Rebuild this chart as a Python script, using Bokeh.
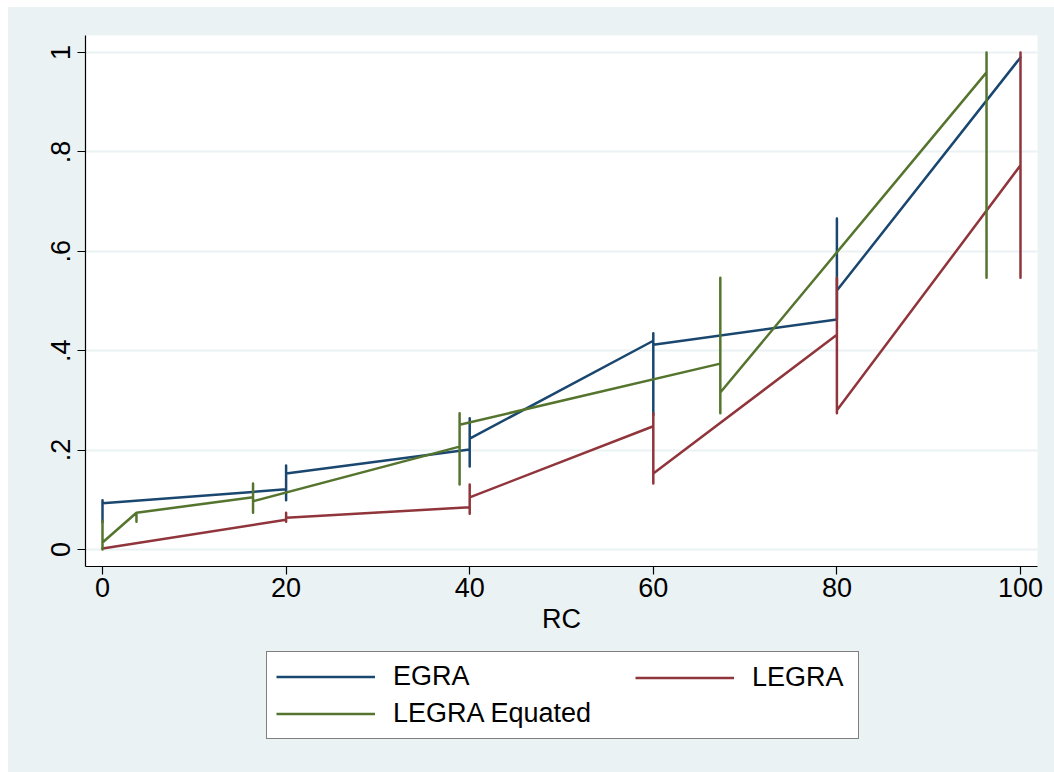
from bokeh.plotting import figure
from bokeh.models import Range1d, FixedTicker, Legend, LegendItem
from bokeh.layouts import column
from bokeh.embed import file_html
from bokeh.resources import INLINE

# ---- data ----
# Each series: x positions, and at each x the y where the line arrives,
# the low / high ends of the vertical run, and the y where the line leaves.
egra_x    = [0, 20, 40, 60, 80, 100]
egra_in   = [0.055, 0.121, 0.201, 0.420, 0.463, 0.990]
egra_lo   = [0.055, 0.099, 0.167, 0.270, 0.500, 0.990]
egra_hi   = [0.099, 0.169, 0.264, 0.435, 0.666, 0.990]
egra_out  = [0.093, 0.153, 0.223, 0.412, 0.521, 0.990]

legra_x   = [0, 20, 40, 60, 80, 100]
legra_in  = [0.002, 0.060, 0.085, 0.248, 0.432, 0.773]
legra_lo  = [0.002, 0.056, 0.072, 0.133, 0.274, 0.547]
legra_hi  = [0.002, 0.074, 0.131, 0.274, 0.547, 1.000]
legra_out = [0.002, 0.064, 0.105, 0.153, 0.280, 1.000]

eq_x      = [0, 3.7, 16.4, 38.9, 67.3, 96.3]
eq_in     = [0.000, 0.074, 0.105, 0.207, 0.374, 0.960]
eq_lo     = [0.000, 0.056, 0.074, 0.131, 0.274, 0.547]
eq_hi     = [0.058, 0.074, 0.133, 0.274, 0.547, 1.000]
eq_out    = [0.014, 0.074, 0.097, 0.251, 0.316, 1.000]

x_ticks = [0, 20, 40, 60, 80, 100]
y_ticks = [0, 0.2, 0.4, 0.6, 0.8, 1.0]
y_tick_labels = ["0", ".2", ".4", ".6", ".8", "1"]
x_label = "RC"
names = ["EGRA", "LEGRA", "LEGRA Equated"]
colors = ["#1a476f", "#90353b", "#55752f"]

def path(xs, yin, ylo, yhi, yout):
    px, py = [], []
    for x, a, b, c, d in zip(xs, yin, ylo, yhi, yout):
        px += [x, x, x, x]
        py += [a, b, c, d]
    return px, py

BG = "#EAF2F3"
FONT = "Liberation Sans"
FS = "27px"
LW = 2.5

p = figure(width=1046, height=640, output_backend="svg", toolbar_location=None,
           x_range=Range1d(-1.852, 101.852), y_range=Range1d(-0.0342, 1.0342),
           min_border_left=77, min_border_right=17, min_border_top=28, min_border_bottom=81,
           background_fill_color="white", border_fill_color=BG,
           outline_line_color=None, margin=0)

series = [(egra_x, egra_in, egra_lo, egra_hi, egra_out),
          (legra_x, legra_in, legra_lo, legra_hi, legra_out),
          (eq_x, eq_in, eq_lo, eq_hi, eq_out)]
paths = [path(*s) for s in series]
for (px, py), col in zip(paths, colors):
    p.line(px, py, line_color=col, line_width=LW, line_join="round", line_cap="round")

# axes
p.xaxis.ticker = FixedTicker(ticks=x_ticks)
p.yaxis.ticker = FixedTicker(ticks=y_ticks)
p.yaxis.major_label_overrides = {t: l for t, l in zip(y_ticks, y_tick_labels)}
p.yaxis.major_label_orientation = "vertical"
for ax in (p.xaxis, p.yaxis):
    ax.axis_line_color = "black"
    ax.axis_line_width = 1.2
    ax.major_tick_line_color = "black"
    ax.major_tick_line_width = 1.2
    ax.major_tick_out = 8
    ax.major_tick_in = 0
    ax.minor_tick_line_color = None
    ax.major_label_text_font = FONT
    ax.major_label_text_font_size = FS
    ax.major_label_text_color = "black"
p.xaxis.major_label_standoff = 3
p.yaxis.major_label_standoff = 7
p.xaxis.axis_label = x_label
p.xaxis.axis_label_text_font = FONT
p.xaxis.axis_label_text_font_size = FS
p.xaxis.axis_label_text_font_style = "normal"
p.xaxis.axis_label_text_color = "black"
p.xaxis.axis_label_standoff = 4

p.xgrid.grid_line_color = None
p.ygrid.grid_line_color = BG
p.ygrid.grid_line_width = 2

# ---- legend panel below the chart ----
# ranges placed away from the data so the key renderers themselves stay out of view
lg = figure(width=1046, height=125, output_backend="svg", toolbar_location=None,
            x_range=Range1d(-2000, -1048), y_range=Range1d(-2000, -1875),
            min_border_left=77, min_border_right=17,
            min_border_top=0, min_border_bottom=0,
            background_fill_color=BG, border_fill_color=BG,
            outline_line_color=None, margin=0)
lg.xaxis.visible = False
lg.yaxis.visible = False
lg.grid.visible = False
leg_r = [lg.line(px, py, line_color=c, line_width=LW) for (px, py), c in zip(paths, colors)]

common = dict(glyph_width=99, glyph_height=31, label_height=31, label_standoff=18,
              spacing=6, margin=0,
              label_text_font=FONT, label_text_font_size=FS, label_text_color="black")

leg1 = Legend(items=[LegendItem(label=names[0], renderers=[leg_r[0]]),
                     LegendItem(label=names[2], renderers=[leg_r[2]])],
              location=(181, 33), label_width=456, padding=9,
              border_line_color="black", border_line_width=1.2,
              background_fill_color="white", background_fill_alpha=1.0, **common)
leg2 = Legend(items=[LegendItem(label=names[1], renderers=[leg_r[1]])],
              location=(550, 79), label_width=60, padding=0,
              border_line_color=None, background_fill_alpha=0.0, **common)
lg.add_layout(leg1, "center")
lg.add_layout(leg2, "center")

layout = column(p, lg, spacing=0, margin=(7, 0, 0, 8),
                styles={"background-color": BG})
open("out.html", "w").write(file_html(layout, INLINE))
